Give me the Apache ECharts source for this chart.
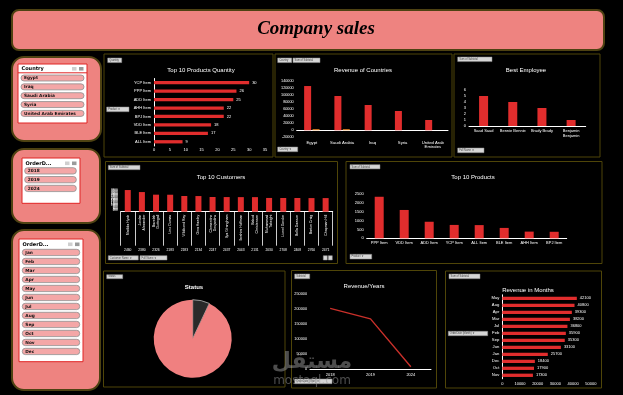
<!DOCTYPE html>
<html><head><meta charset="utf-8">
<script src="https://cdn.jsdelivr.net/npm/echarts@6/dist/echarts.min.js"></script>
<style>html,body{margin:0;padding:0;background:#000;}#c{width:623px;height:395px;}</style>
</head><body><div id="c"></div>
<script>
// ---------------- DATA ----------------
const qtyProducts = ['YCP Item','PPP Item','ADD Item','AHH Item','BPJ Item','VDD Item','BLE Item','ALL Item'];
const qtyValues = [30, 26, 25, 22, 22, 18, 17, 9];

const countryNames = ['Egypt','Saudi Arabia','Iraq','Syria','United Arab\nEmirates'];
const countryRevenue = [125700, 97300, 71800, 54700, 29200];
const countryOther = [3000, 3000, null, null, null];

const employeeNames = ['Saad Saad','Bennie Bennie','Brady Brady','Benjamin\nBenjamin'];
const employeeValues = [5, 4, 3, 1];

const customerNames = ['Matilda Hyde','Jordan\nAlexander','Bazelah\nGottegall','Lino Dumas','Wildbond Ray','Gina Hawley','Clementine\nDesjardins','Ilya Wrangham','Ibrahim Hoffman','Babod\nChristensen','Muhammad\nTakeight','Lionel Gordon','Bella Dawson','Barton Craig','Chapman Hill'];
const customerValues = [3420, 3100, 2690, 2680, 2480, 2470, 2320, 2310, 2300, 2300, 2170, 2160, 2160, 2150, 2150];
const customerIds = ['2460','2380','2326','2183','2183','2134','2247','2437','2043','2131','2030','2708','2408','2760','2471'];

const productNames = ['PPP Item','VDD Item','ADD Item','YCP Item','ALL Item','BLE Item','AHH Item','BPJ Item'];
const productValues = [2360, 1610, 940, 760, 750, 590, 380, 370];

const statusNames = ['Returned','Delivered'];
const statusValues = [7, 93];

const yearNames = ['2018','2019','2024'];
const yearRevenue = [202000, 167000, 7700];

const monthNames = ['May','Aug','Apr','Mar','Jul','Feb','Sep','Jun','Jan','Dec','Oct','Nov'];
const monthRevenue = [42100, 40800, 39300, 38200, 36800, 35900, 35300, 33100, 25700, 18400, 17900, 17300];

const sliceCountries = ['Egypt','Iraq','Saudi Arabia','Syria','United Arab Emirates'];
const sliceYears = ['2018','2019','2024'];
const sliceMonths = ['Jan','Feb','Mar','Apr','May','Jun','Jul','Aug','Sep','Oct','Nov','Dec'];

// ---------------- STYLE ----------------
const RED = '#e12d2d', ORANGE = '#f28e2b', WHITE = '#ffffff';
const SALMON = '#ee8380', OLIVE = '#4e4212', PANEL = '#4f4508';
const FF = '"Liberation Sans", Arial, sans-serif';
const G = [];
function rect(x, y, w, h, o) {
  G.push({type:'rect', z:o.z||1, shape:{x:x, y:y, width:w, height:h, r:o.r||0},
    style:{fill:o.fill||'none', stroke:o.stroke||null, lineWidth:o.lw||0}});
}
function txt(x, y, t, o) {
  G.push({type:'text', z:o.z||5, style:{x:x, y:y, text:t, fill:o.fill||WHITE, font:o.font||('4px '+FF),
    textAlign:o.align||'left', textVerticalAlign:'middle', verticalAlign:'middle', opacity:o.op==null?1:o.op}});
}
function btn(x, y, w, h, t) {
  rect(x, y, w, h, {fill:'#d6d6d6', stroke:'#8a8a8a', lw:0.5, z:6});
  txt(x + 1.5, y + h/2, t, {fill:'#444', font:'2.6px '+FF, z:7});
}

// title bar
rect(12, 10, 592, 40, {r:7, fill:SALMON, stroke:OLIVE, lw:2});
txt(316, 29.5, 'Company sales', {fill:'#000', font:'italic bold 19px "Liberation Serif", "Times New Roman", serif', align:'center'});

// panels
[[104,54,169,103],[275,54,177,103],[454,54,146,103],[105.5,161.5,232,102],[346,161.5,256,102],
 [103.5,271,181.5,116],[291.5,270.5,145,117.5],[445.5,271,156,117]].forEach(p => rect(p[0],p[1],p[2],p[3],{stroke:PANEL, lw:1}));

// chart titles
txt(201, 70, 'Top 10 Products Quantity', {font:'6px '+FF, align:'center'});
txt(363, 70, 'Revenue of Countries', {font:'6px '+FF, align:'center'});
txt(526, 70, 'Best Employee', {font:'6px '+FF, align:'center'});
txt(221, 177.5, 'Top 10 Customers', {font:'6px '+FF, align:'center'});
txt(473, 177.5, 'Top 10 Products', {font:'6px '+FF, align:'center'});
txt(194, 287, 'Status', {font:'bold 6px '+FF, align:'center'});
txt(364, 286.5, 'Revenue/Years', {font:'6px '+FF, align:'center'});
txt(528, 290.5, 'Revenue in Months', {font:'6px '+FF, align:'center'});

// field buttons
btn(107.7, 58, 14, 4.6, 'Quantity');
btn(106.7, 107, 22.3, 4.7, 'Product ▼');
btn(277.7, 58, 14, 4.6, 'Country');
btn(293, 58, 27, 4.6, 'Sum of Subtotal');
btn(277.7, 147, 20, 4.7, 'Country ▼');
btn(457.7, 57, 34.3, 4.6, 'Sum of Subtotal');
btn(457.7, 148, 26.3, 4.7, 'Full Name ▼');
btn(108.3, 165.3, 31.7, 4.4, 'Sum of Subtotal');
btn(108.3, 255.7, 30, 4.3, 'Customer Name ▼');
btn(140, 255.7, 27, 4.3, 'Full Name ▼');
rect(323.3, 255.7, 4, 4.3, {fill:'#d6d6d6', stroke:'#8a8a8a', lw:0.5, z:6});
rect(328.3, 255.7, 4, 4.3, {fill:'#d6d6d6', stroke:'#8a8a8a', lw:0.5, z:6});
btn(350, 164.7, 30, 4.2, 'Sum of Subtotal');
btn(350, 254.3, 21.7, 4.7, 'Product ▼');
btn(106.7, 274.7, 16, 4, 'Status');
btn(294.7, 274, 15, 4.7, 'Subtotal');
btn(294.7, 379, 37.3, 4.7, 'OrderDate (Year) ▼');
btn(449, 274, 31, 4.7, 'Sum of Subtotal');
btn(448.3, 331.3, 39.4, 4.4, 'OrderDate (Month) ▼');

// slicers
function slicer(box, inner, header, items, pill, redLine) {
  rect(box[0], box[1], box[2], box[3], {r:12, fill:SALMON, stroke:OLIVE, lw:2});
  rect(inner[0], inner[1], inner[2], inner[3], {fill:'#ffffff', stroke:'#e02424', lw:1, z:2});
  txt(inner[0] + 3.5, header[1], header[0], {fill:'#000', font:'bold 5px "DejaVu Sans", sans-serif', z:4});
  const ix = inner[0] + inner[2];
  rect(ix - 15, header[1] - 1.8, 4.5, 3.6, {fill:'#cfcfcf', z:4});
  rect(ix - 8, header[1] - 1.8, 4.5, 3.6, {fill:'#9a9a9a', z:4});
  if (redLine) G.push({type:'line', z:4, shape:{x1:inner[0], y1:header[1]+4, x2:ix, y2:header[1]+4}, style:{stroke:'#e02424', lineWidth:1}});
  items.forEach((t, i) => {
    const y = pill[1] + i * pill[4];
    rect(pill[0], y, pill[2], pill[3], {r:3, fill:'#f4a7a7', stroke:'#8f8f8f', lw:0.8, z:3});
    txt(pill[0] + 3, y + pill[3]/2, t, {fill:'#111', font:'bold 4.3px "DejaVu Sans", sans-serif', z:4});
  });
}
slicer([12,57,89,84], [18,64,69,59], ['Country',68.8], sliceCountries, [21,75,63,6,8.85], true);
slicer([12,149,88,74], [22,158,58,45.3], ['OrderD...',163.3], sliceYears, [24.7,167.7,51.6,6.3,8.8], false);
slicer([12,230,88,160], [19,239,64,122.7], ['OrderD...',244.3], sliceMonths, [22.3,249.3,57.4,6.3,9], false);

// watermark
txt(312, 362, 'مستقل', {fill:'#9a9a9a', font:'bold 22px "DejaVu Sans", sans-serif', align:'center', op:0.5, z:100});
txt(312, 381, 'mostaql.com', {fill:'#9a9a9a', font:'12px "DejaVu Sans", sans-serif', align:'center', op:0.5, z:100});

// ---------------- AXES ----------------
const plain = v => String(v);
const lab = (o) => Object.assign({color:WHITE, fontSize:4.2, fontFamily:FF, margin:3}, o||{});
const vlab = (o) => Object.assign({color:WHITE, fontSize:4.2, fontFamily:FF, margin:3, formatter:plain}, o||{});
const wline = {show:true, lineStyle:{color:WHITE, width:1}};
const noLine = {show:false};

const option = {
  backgroundColor:'#000',
  animation:false,
  graphic:{elements:G},
  grid:[
    {left:154, top:78.5, width:111, height:67.5},
    {left:296.7, top:81, width:151.3, height:56.3},
    {left:469, top:90, width:116.7, height:36},
    {left:120.7, top:188.9, width:212, height:22.8},
    {left:366.7, top:194.3, width:200, height:44},
    {left:310, top:294, width:121, height:75},
    {left:502.3, top:294.8, width:88.5, height:84}
  ],
  xAxis:[
    {type:'value', gridIndex:0, min:0, max:35, interval:5, axisLine:noLine, axisTick:noLine, splitLine:noLine, axisLabel:vlab({margin:2, fontSize:4})},
    {type:'category', gridIndex:1, data:countryNames, axisLine:wline, axisTick:noLine, axisLabel:lab({lineHeight:4.6, interval:0})},
    {type:'category', gridIndex:2, data:employeeNames, axisLine:wline, axisTick:noLine, axisLabel:lab({lineHeight:4.6, interval:0, fontSize:4})},
    {type:'category', gridIndex:3, data:customerNames, axisLine:wline,
      axisTick:{show:true, length:34, interval:0, lineStyle:{color:WHITE, width:0.8}},
      axisLabel:lab({rotate:90, fontSize:3.5, lineHeight:4, interval:0, margin:3})},
    {type:'category', gridIndex:3, data:customerIds, position:'bottom', offset:36, axisLine:noLine, axisTick:noLine,
      axisLabel:lab({fontSize:3.3, interval:0, margin:1})},
    {type:'category', gridIndex:4, data:productNames, axisLine:wline, axisTick:noLine, axisLabel:lab({interval:0, fontSize:4})},
    {type:'category', gridIndex:5, data:yearNames, axisLine:wline, axisTick:noLine, axisLabel:lab({margin:4, fontSize:4, interval:0})},
    {type:'value', gridIndex:6, min:0, max:50000, interval:10000, axisLine:noLine, axisTick:noLine, splitLine:noLine, axisLabel:vlab({fontSize:4, margin:3})}
  ],
  yAxis:[
    {type:'category', gridIndex:0, data:qtyProducts, inverse:true, axisLine:wline, axisTick:noLine, axisLabel:lab({fontSize:4, interval:0})},
    {type:'value', gridIndex:1, min:-20000, max:140000, interval:20000, axisLine:noLine, axisTick:noLine, splitLine:noLine, axisLabel:vlab({fontSize:3.8})},
    {type:'value', gridIndex:2, min:0, max:6, interval:1, axisLine:noLine, axisTick:noLine, splitLine:noLine, axisLabel:vlab({fontSize:4})},
    {type:'value', gridIndex:3, min:0, max:3600, interval:200, axisLine:noLine, axisTick:noLine, splitLine:noLine, axisLabel:vlab({fontSize:3, margin:3})},
    {type:'value', gridIndex:4, min:0, max:2500, interval:500, axisLine:noLine, axisTick:noLine, splitLine:noLine, axisLabel:vlab({fontSize:4})},
    {type:'value', gridIndex:5, min:0, max:250000, interval:50000, axisLine:noLine, axisTick:noLine, splitLine:noLine, axisLabel:vlab({fontSize:3.8})},
    {type:'category', gridIndex:6, data:monthNames, inverse:true, axisLine:wline, axisTick:noLine, axisLabel:lab({fontSize:4.2, interval:0})}
  ],
  series:[
    {type:'bar', xAxisIndex:0, yAxisIndex:0, data:qtyValues, barWidth:3.3, itemStyle:{color:RED},
      label:{show:true, position:'right', color:WHITE, fontSize:4, fontFamily:FF, distance:3, formatter:'{c}'}},
    {type:'bar', xAxisIndex:1, yAxisIndex:1, data:countryRevenue, barWidth:7, barGap:'20%', itemStyle:{color:RED}},
    {type:'bar', xAxisIndex:1, yAxisIndex:1, data:countryOther, barWidth:7, itemStyle:{color:ORANGE}},
    {type:'bar', xAxisIndex:2, yAxisIndex:2, data:employeeValues, barWidth:9, itemStyle:{color:RED}},
    {type:'bar', xAxisIndex:3, yAxisIndex:3, data:customerValues, barWidth:6, itemStyle:{color:RED}},
    {type:'bar', xAxisIndex:5, yAxisIndex:4, data:productValues, barWidth:9, itemStyle:{color:RED}},
    {type:'pie', center:[192.7, 338.7], radius:39, startAngle:90, clockwise:true, label:{show:false}, labelLine:{show:false},
      data:statusNames.map((n, i) => ({name:n, value:statusValues[i],
        itemStyle: i === 0 ? {color:'#2a2a2a', borderColor:'#cfcfcf', borderWidth:0.7} : {color:'#f08080', borderWidth:0}}))},
    {type:'line', xAxisIndex:6, yAxisIndex:5, data:yearRevenue, showSymbol:false, symbol:'none',
      lineStyle:{color:'#c9302a', width:1.4}},
    {type:'bar', xAxisIndex:7, yAxisIndex:6, data:monthRevenue, barWidth:3.3, itemStyle:{color:RED},
      label:{show:true, position:'right', color:WHITE, fontSize:4, fontFamily:FF, distance:3, formatter:p => String(p.value)}}
  ]
};
const chart = echarts.init(document.getElementById('c'));
chart.setOption(option);
</script>
</body></html>
